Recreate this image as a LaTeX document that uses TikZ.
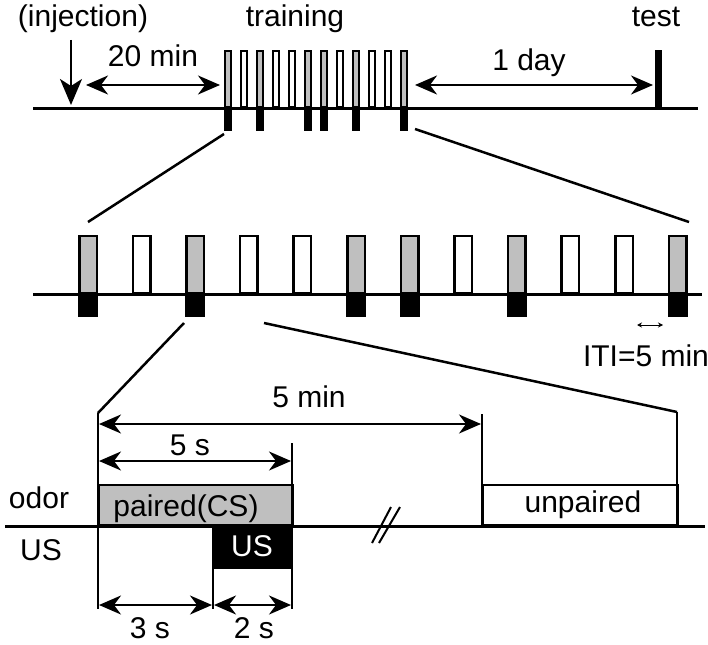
\documentclass[tikz,border=0pt]{standalone}
\usepackage{fontspec}
\setmainfont{Liberation Sans}
\usetikzlibrary{arrows.meta}
\begin{document}
\begin{tikzpicture}[x=1pt,y=-1pt,
  lbl/.style={inner sep=0pt, font=\fontsize{30}{32}\selectfont, anchor=base},
  arr/.style={line width=2pt, -{Stealth[length=26pt,width=22pt,inset=7pt]}},
  dbl/.style={line width=2pt, {Stealth[length=22pt,width=19pt,inset=7pt]}-{Stealth[length=22pt,width=19pt,inset=7pt]}},
  small/.style={line width=1pt, {Stealth[length=5pt,width=5pt]}-{Stealth[length=5pt,width=5pt]}},
  axis/.style={line width=3pt},
  thin/.style={line width=2pt},
  zoomline/.style={line width=2.5pt},
  tbar/.style={draw, line width=2pt, minimum width=6pt, minimum height=56pt, inner sep=0pt, anchor=south},
  tblk/.style={fill=black, minimum width=8pt, minimum height=23pt, inner sep=0pt, anchor=north},
  mbar/.style={draw, line width=2.5pt, minimum width=17.5pt, minimum height=56.75pt, inner sep=0pt, anchor=south},
  mblk/.style={fill=black, minimum width=20pt, minimum height=23pt, inner sep=0pt, anchor=north},
  box/.style={draw, line width=2pt, inner sep=0pt, anchor=south west}
]
\useasboundingbox (0,0) rectangle (708,644);

% ---------- top timeline ----------
\node[lbl] (inj) at (83,27) {(injection)};
\node[lbl] (trn) at (295,27) {training};
\node[lbl] (tst) at (656,27) {test};
\node[lbl] (m20) at (153,67) {20 min};
\node[lbl] (day) at (529,71) {1 day};

\coordinate (tlL) at (33,108.5);
\coordinate (tlR) at (698,108.5);
\draw[axis] (tlL) -- (tlR);

\coordinate (injT) at (71,40);
\coordinate (injB) at (71,105);
\draw[arr] (injT) -- (injB);

\coordinate (a20L) at (86,85);
\coordinate (a20R) at (220,85);
\draw[dbl] (a20L) -- (a20R);
\coordinate (adL) at (415,85);
\coordinate (adR) at (653,85);
\draw[dbl] (adL) -- (adR);

\node[fill=black, minimum width=7pt, minimum height=58pt, inner sep=0pt, anchor=south] (testbar) at (658.5,108) {};

\foreach \i/\p in {0/1,1/0,2/1,3/0,4/0,5/1,6/1,7/0,8/1,9/0,10/0,11/1}{
  \ifnum\p=1
    \node[tbar, fill=gray!50] (t\i) at ({228+16*\i},108) {};
    \node[tblk] (tb\i) at ({228+16*\i},108) {};
  \else
    \node[tbar, fill=white] (t\i) at ({228+16*\i},108) {};
  \fi
}

% zoom lines top -> middle
\coordinate (z1a) at (224,134);
\coordinate (z1b) at (88,222);
\coordinate (z2a) at (415,129);
\coordinate (z2b) at (689,222);
\draw[zoomline] (z1a) -- (z1b);
\draw[zoomline] (z2a) -- (z2b);

% ---------- middle timeline ----------
\foreach \i/\p in {0/1,1/0,2/1,3/0,4/0,5/1,6/1,7/0,8/1,9/0,10/0,11/1}{
  \ifnum\p=1
    \node[mbar, fill=gray!50] (m\i) at ({88+53.6*\i},294) {};
    \node[mblk] (mb\i) at ({88+53.6*\i},294) {};
  \else
    \node[mbar, fill=white] (m\i) at ({88+53.6*\i},294) {};
  \fi
}
\coordinate (mlL) at (33,294);
\coordinate (mlR) at (702,294);
\draw[axis] (mlL) -- (mlR);

\coordinate (itiL) at (637,325);
\coordinate (itiR) at (663,325);
\draw[small] (itiL) -- (itiR);
\node[lbl] (iti) at (646,366) {ITI=5 min};

% zoom lines middle -> bottom
\coordinate (z3a) at (184,323);
\coordinate (z3b) at (98,413);
\coordinate (z4a) at (264,323);
\coordinate (z4b) at (677,412);
\draw[zoomline] (z3a) -- (z3b);
\draw[zoomline] (z4a) -- (z4b);

% ---------- bottom detail ----------
\node[box, fill=gray!50, minimum width=194pt, minimum height=40pt] (paired) at (98,526) {};
\node[lbl] (pairedtxt) at (186,516) {paired(CS)};
\node[box, fill=black, draw=none, minimum width=79pt, minimum height=42pt, anchor=north west] (us) at (213,526) {};
\node[lbl, text=white] (ustxt) at (252,556) {US};
\node[box, fill=white, minimum width=195pt, minimum height=40pt] (unp) at (482,526) {};
\node[lbl] (unptxt) at (583,512) {unpaired};

\node[lbl] (odor) at (39,508) {odor};
\node[lbl] (usl) at (41,560) {US};

\coordinate (blL) at (5,526);
\coordinate (blR) at (705,526);
\draw[axis] (blL) -- (blR);

% vertical markers
\coordinate (v1t) at (98,413);   \coordinate (v1b) at (98,609);
\coordinate (v2t) at (292,443);  \coordinate (v2b) at (292,609);
\coordinate (v3t) at (213,526);  \coordinate (v3b) at (213,609);
\coordinate (v4t) at (482,414);  \coordinate (v4b) at (482,526);
\coordinate (v5t) at (677,412);  \coordinate (v5b) at (677,526);
\draw[thin] (v1t) -- (v1b);
\draw[thin] (v2t) -- (v2b);
\draw[thin] (v3t) -- (v3b);
\draw[thin] (v4t) -- (v4b);
\draw[line width=2.5pt] (v5t) -- (v5b);

% dimension arrows
\coordinate (a5mL) at (99,424);  \coordinate (a5mR) at (481,424);
\draw[dbl] (a5mL) -- (a5mR);
\node[lbl] (t5m) at (309,407) {5 min};
\coordinate (a5sL) at (99,461);  \coordinate (a5sR) at (291,461);
\draw[dbl] (a5sL) -- (a5sR);
\node[lbl] (t5s) at (190,455) {5 s};
\coordinate (a3L) at (99,605);   \coordinate (a3R) at (212,605);
\draw[dbl] (a3L) -- (a3R);
\node[lbl] (t3s) at (150,638) {3 s};
\coordinate (a2L) at (214,605);  \coordinate (a2R) at (291,605);
\draw[dbl] (a2L) -- (a2R);
\node[lbl] (t2s) at (254,638) {2 s};

% break mark
\coordinate (br1a) at (372,543); \coordinate (br1b) at (391,507);
\coordinate (br2a) at (379,543); \coordinate (br2b) at (400,507);
\draw[thin] (br1a) -- (br1b);
\draw[thin] (br2a) -- (br2b);
\end{tikzpicture}
\end{document}
